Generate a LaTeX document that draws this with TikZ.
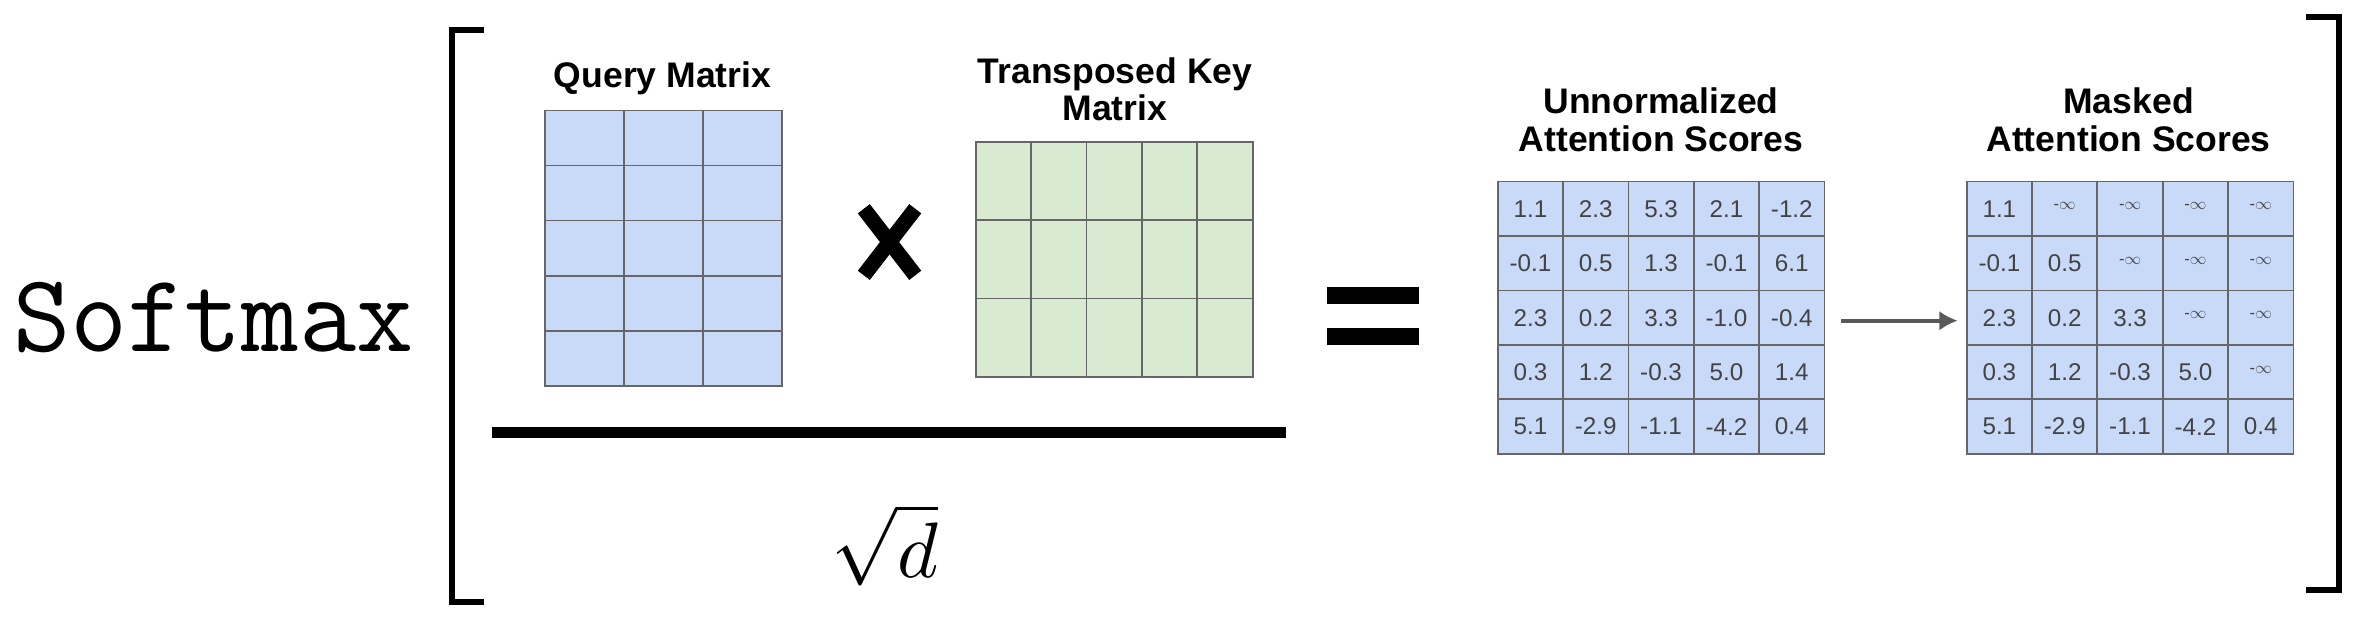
\documentclass[tikz,border=0pt]{standalone}
\usepackage{fontspec}
\setmainfont{Liberation Sans}
\usepackage{amsmath}
\usepackage{graphicx}
\usetikzlibrary{arrows.meta}
\begin{document}
\begin{tikzpicture}[x=1pt,y=-1pt,
  lbl/.style={font=\fontsize{23.5}{25}\selectfont\bfseries,align=center},
  cell/.style={font=\fontsize{16}{18}\selectfont,text=txtgray},
  gl/.style={gridgray,line width=1.2pt}]
\definecolor{qblue}{HTML}{C9DAF8}
\definecolor{kgreen}{HTML}{D9EAD3}
\definecolor{gridgray}{HTML}{666666}
\definecolor{txtgray}{HTML}{434343}
\definecolor{arrgray}{HTML}{595959}
\useasboundingbox (0,0) rectangle (1560,411);
% Softmax
\node (sm) at (141,210) {\scalebox{1.36}{\fontsize{54}{60}\selectfont\ttfamily Softmax}};
% brackets
\draw[line width=4pt] (320,20) -- (299,20) -- (299,398) -- (320,398);
\draw[line width=4pt] (1524,11) -- (1546,11) -- (1546,390) -- (1524,390);
% Query matrix
\fill[qblue] (360,73) rectangle (517,255);
\foreach \k in {1,2} \draw[gl] (360+52.33*\k,73) -- (360+52.33*\k,255);
\foreach \k in {1,...,4} \draw[gl] (360,73+36.4*\k) -- (517,73+36.4*\k);
\draw[gl] (360,73) rectangle (517,255);
\node[lbl] (ql) at (438,52) {Query Matrix};
% times
\coordinate (xc) at (588,160);
\draw[line width=10pt] ([shift={(-17,-22)}]xc) -- ([shift={(17,22)}]xc);
\draw[line width=10pt] ([shift={(17,-22)}]xc) -- ([shift={(-17,22)}]xc);
% Key matrix
\fill[kgreen] (645,94) rectangle (828,249);
\foreach \k in {1,...,4} \draw[gl] (645+36.6*\k,94) -- (645+36.6*\k,249);
\foreach \k in {1,2} \draw[gl] (645,94+51.67*\k) -- (828,94+51.67*\k);
\draw[gl] (645,94) rectangle (828,249);
\node[lbl] (kl) at (737,59) {Transposed Key\\Matrix};
% fraction
\draw[line width=7pt] (325,286) -- (850,286);
\node (sq) at (585,360) {\scalebox{5.2}{$\sqrt{d}$}};
% equals
\fill (877,190) rectangle (938,201);
\fill (877,217) rectangle (938,228);
% score matrices
\foreach \ox in {990,1300}{
  \fill[qblue] (\ox,120) rectangle (\ox+216,300);
  \foreach \k in {1,...,4} {
    \draw[gl] (\ox+43.2*\k,120) -- (\ox+43.2*\k,300);
    \draw[gl] (\ox,120+36*\k) -- (\ox+216,120+36*\k);}
  \draw[gl] (\ox,120) rectangle (\ox+216,300);
}
\node[lbl] (ul) at (1098,79) {Unnormalized\\Attention Scores};
\node[lbl] (ml) at (1407,79) {Masked\\Attention Scores};
\def\inf{\raisebox{0.4ex}{\fontsize{11}{12}\selectfont -$\infty$}}
\foreach \r [count=\i from 0] in {{1.1,2.3,5.3,2.1,-1.2},{-0.1,0.5,1.3,-0.1,6.1},{2.3,0.2,3.3,-1.0,-0.4},{0.3,1.2,-0.3,5.0,1.4},{5.1,-2.9,-1.1,-4.2,0.4}}
  \foreach \v [count=\j from 0] in \r
    \node[cell] at (1011.6+43.2*\j,138+36*\i) {\v};
\foreach \r [count=\i from 0] in {{1.1,\inf,\inf,\inf,\inf},{-0.1,0.5,\inf,\inf,\inf},{2.3,0.2,3.3,\inf,\inf},{0.3,1.2,-0.3,5.0,\inf},{5.1,-2.9,-1.1,-4.2,0.4}}
  \foreach \v [count=\j from 0] in \r
    \node[cell] at (1321.6+43.2*\j,138+36*\i) {\v};
\coordinate (a1) at (1217,212);
\coordinate (a2) at (1294,212);
\draw[arrgray,line width=2.5pt,-{Latex[length=12pt,width=13pt]}] (a1) -- (a2);
\end{tikzpicture}
\end{document}
